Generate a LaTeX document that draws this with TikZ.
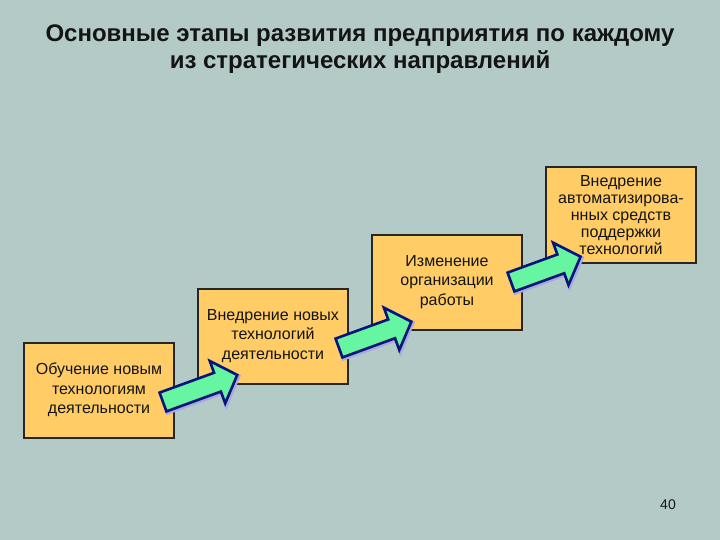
\documentclass[tikz,border=0pt]{standalone}
\usepackage{fontspec}
\setmainfont{Liberation Sans}
\definecolor{bgc}{RGB}{179,202,199}
\definecolor{boxc}{RGB}{255,204,102}
\definecolor{arrc}{RGB}{102,245,160}
\definecolor{arrd}{RGB}{10,20,120}
\definecolor{arrs}{RGB}{165,170,225}
\definecolor{txtc}{RGB}{20,20,20}
\tikzset{
  stagebox/.style={draw=black!85, line width=2pt, fill=boxc, minimum width=150pt, minimum height=95pt,
    inner sep=0pt, align=center, text=txtc, font=\fontsize{16}{19.5}\selectfont},
  fatarrow/.style={draw=arrd, line width=2.6pt, fill=arrc, line join=miter},
  arrshadow/.style={draw=arrs, line width=4pt, line join=miter},
}
\newcommand{\arrpoly}[1]{(0,-10) -- (#1-21,-10) -- (#1-21,-22.5) -- (#1,0) -- (#1-21,22.5) -- (#1-21,10) -- (0,10) -- cycle}
\newcommand{\fatarr}[3]{% tail coordinate, angle, length
  \begin{scope}[shift={(#1)}, shift={(1.2,1.2)}, rotate=#2]
    \path[arrshadow] \arrpoly{#3};
  \end{scope}
  \begin{scope}[shift={(#1)}, rotate=#2]
    \path[fatarrow] \arrpoly{#3};
  \end{scope}}
\begin{document}
\begin{tikzpicture}[x=1pt,y=-1pt]
\fill[bgc] (0,0) rectangle (720,540);
\useasboundingbox (0,0) rectangle (720,540);
\node[font=\bfseries\fontsize{24}{27}\selectfont, align=center, text=txtc] (title) at (360,49)
  {Основные этапы развития предприятия по каждому\\из стратегических направлений};
\node[stagebox] (b1) at (99,390) {Обучение новым\\технологиям\\деятельности};
\node[stagebox] (b2) at (273,336) {Внедрение новых\\технологий\\деятельности};
\node[stagebox] (b3) at (447,282) {Изменение\\организации\\работы};
\node[stagebox, font=\fontsize{16}{17}\selectfont] (b4) at (621,215) {Внедрение\\автоматизирова-\\нных средств\\поддержки\\технологий};
\coordinate (a1) at (163,402);
\coordinate (a2) at (339,348);
\coordinate (a3) at (511,282);
\fatarr{a1}{20}{79}
\fatarr{a2}{20}{77}
\fatarr{a3}{20}{74}
\node[font=\fontsize{14}{17}\selectfont, text=txtc] (pg) at (668,505) {40};
\end{tikzpicture}
\end{document}
